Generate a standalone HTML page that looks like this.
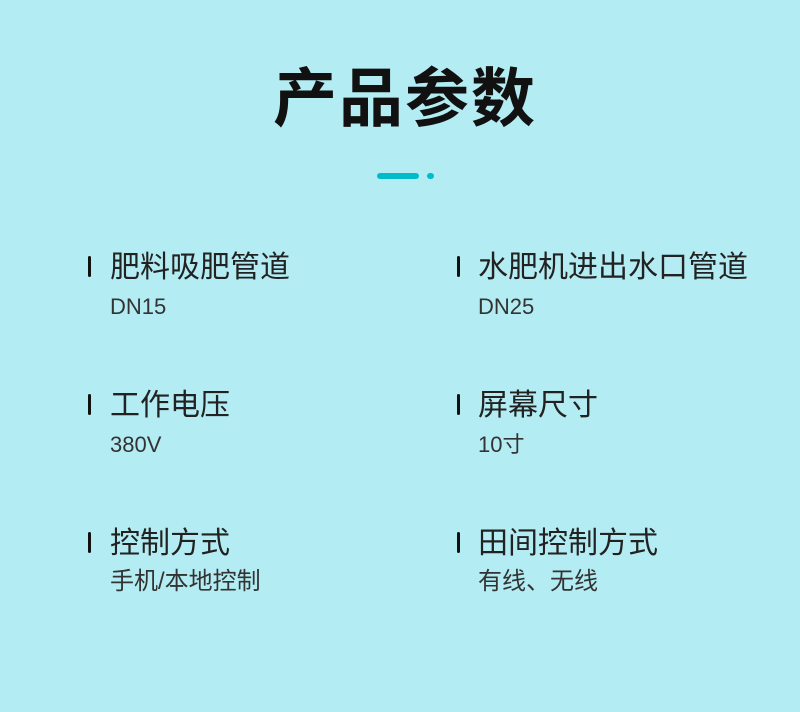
<!DOCTYPE html>
<html><head><meta charset="utf-8"><style>
body{margin:0;width:800px;height:712px;background:#b3ecf2;position:relative;overflow:hidden;font-family:"Liberation Sans","Noto Sans CJK SC",sans-serif}
.t{position:absolute;left:0;width:810px;top:61px;text-align:center;font-size:64px;font-weight:bold;color:#111;line-height:76px;letter-spacing:2px}
.bar{position:absolute;left:377px;top:173px;width:42px;height:6px;border-radius:3px;background:#00bccb}
.dot{position:absolute;left:427px;top:173px;width:7px;height:6px;border-radius:3px;background:#00bccb}
.m{position:absolute;width:3px;height:21px;border-radius:2px;background:#111}
.h{position:absolute;font-size:30px;color:#222;line-height:32px;white-space:nowrap}
.s{position:absolute;font-size:22px;color:#333;line-height:26px;white-space:nowrap}
.c{font-size:24px}
</style></head><body>
<div class="t">产品参数</div>
<div class="bar"></div><div class="dot"></div>

<div class="m" style="left:88px;top:256px"></div><div class="h" style="left:110px;top:252px">肥料吸肥管道</div><div class="s" style="left:110px;top:294px">DN15</div>
<div class="m" style="left:457px;top:256px"></div><div class="h" style="left:478px;top:252px">水肥机进出水口管道</div><div class="s" style="left:478px;top:294px">DN25</div>

<div class="m" style="left:88px;top:394px"></div><div class="h" style="left:110px;top:390px">工作电压</div><div class="s" style="left:110px;top:432px">380V</div>
<div class="m" style="left:457px;top:394px"></div><div class="h" style="left:478px;top:390px">屏幕尺寸</div><div class="s" style="left:478px;top:432px">10寸</div>

<div class="m" style="left:88px;top:532px"></div><div class="h" style="left:110px;top:528px">控制方式</div><div class="s c" style="left:110px;top:569px">手机/本地控制</div>
<div class="m" style="left:457px;top:532px"></div><div class="h" style="left:478px;top:528px">田间控制方式</div><div class="s c" style="left:478px;top:569px">有线、无线</div>
</body></html>
